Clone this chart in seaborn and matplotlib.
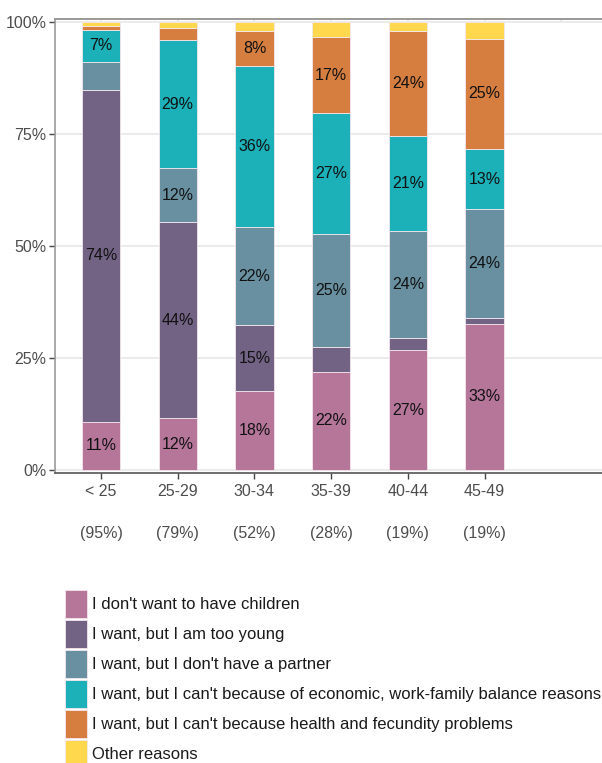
import numpy as np
import pandas as pd
import matplotlib
matplotlib.use("Agg")
import matplotlib.pyplot as plt
import seaborn as sns
from matplotlib.patches import Patch

# age groups and share of people who don't intend to have a child
ages = ['< 25', '25-29', '30-34', '35-39', '40-44', '45-49']
share = ['(95%)', '(79%)', '(52%)', '(28%)', '(19%)', '(19%)']

reasons = ["I don't want to have children",
           "I want, but I am too young",
           "I want, but I don't have a partner",
           "I want, but I can't because of economic, work-family balance reasons",
           "I want, but I can't because health and fecundity problems",
           "Other reasons"]

# percentages (bottom to top)
no_children = [10.8, 11.6, 17.6, 21.9, 26.8, 32.7]
too_young = [74.2, 43.8, 14.8, 5.6, 2.7, 1.3]
no_partner = [6.1, 12.0, 21.8, 25.2, 23.8, 24.3]
economic = [7.3, 28.7, 36.1, 27.0, 21.3, 13.4]
health = [0.8, 2.6, 7.8, 17.0, 23.5, 24.7]
other = [0.8, 1.3, 1.9, 3.3, 1.9, 3.6]

colors = ['#B5769A', '#726384', '#6890A0', '#1CB0B8', '#D67D40', '#FFD84E']

series = [no_children, too_young, no_partner, economic, health, other]
rows = []
for r, vals in zip(reasons, series):
    for a, v in zip(ages, vals):
        rows.append({'age': a, 'reason': r, 'pct': v})
df = pd.DataFrame(rows)

sns.set_style("white")
plt.rcParams['font.family'] = ['Liberation Sans', 'DejaVu Sans']

fig = plt.figure(figsize=(6.02, 7.63), dpi=100)
ax = fig.add_axes([55/602, 290/763, 560/602, 454/763])

sns.histplot(data=df, x='age', hue='reason', weights='pct',
             hue_order=reasons[::-1], palette=dict(zip(reasons, colors)),
             multiple='stack', discrete=True, shrink=0.5, alpha=1,
             edgecolor='#F4E6EE', linewidth=0.6, legend=False, ax=ax)

# labels in the middle of each segment
vals = np.array(series)
tops = vals.cumsum(axis=0)
mids = tops - vals / 2
for i in range(vals.shape[0]):
    for j in range(vals.shape[1]):
        if vals[i, j] >= 6.5:
            ax.text(j, mids[i, j], f"{vals[i, j]:.0f}%", ha='center', va='center',
                    fontsize=11.5, color='#111111')

ax.set_xlim(-0.6, 6.7)
ax.set_ylim(-0.67, 100.78)
ax.set_yticks([0, 25, 50, 75, 100])
ax.set_yticklabels(['0%', '25%', '50%', '75%', '100%'])
ax.set_xticks(range(len(ages)))
ax.set_xticklabels([f"{a}\n\n{s}" for a, s in zip(ages, share)], linespacing=1.5)
ax.set_xlabel('')
ax.set_ylabel('')
ax.yaxis.grid(True, color='#EBEBEB', linewidth=1.4)
ax.set_axisbelow(True)
ax.tick_params(axis='both', direction='out', length=4, width=1, color='#444444',
               labelsize=11.5, labelcolor='#4D4D4D', left=True, bottom=True)
ax.tick_params(axis='x', pad=4)
ax.tick_params(axis='y', pad=2)
for s in ['top', 'left', 'right']:
    ax.spines[s].set_color('#999999')
    ax.spines[s].set_linewidth(1.2)
ax.spines['bottom'].set_color('#555555')
ax.spines['bottom'].set_linewidth(1.2)

top = ax.secondary_xaxis('top')
top.set_xticks(range(7))
top.tick_params(direction='in', length=2.6, width=1.2, color='#E3E3E3', labeltop=False)
top.spines['top'].set_color('#999999')
top.spines['top'].set_linewidth(1.2)

handles = [Patch(facecolor=c, edgecolor='#F4E6EE', linewidth=0.6) for c in colors]
fig.legend(handles, reasons, loc='upper left', bbox_to_anchor=(65/602, 1 - 590/763),
           frameon=False, fontsize=12, handlelength=1.32, handleheight=2.18,
           labelspacing=0.14, handletextpad=0.3, borderpad=0, borderaxespad=0,
           labelcolor='#1A1A1A')

fig.savefig('out.png', dpi=100)
